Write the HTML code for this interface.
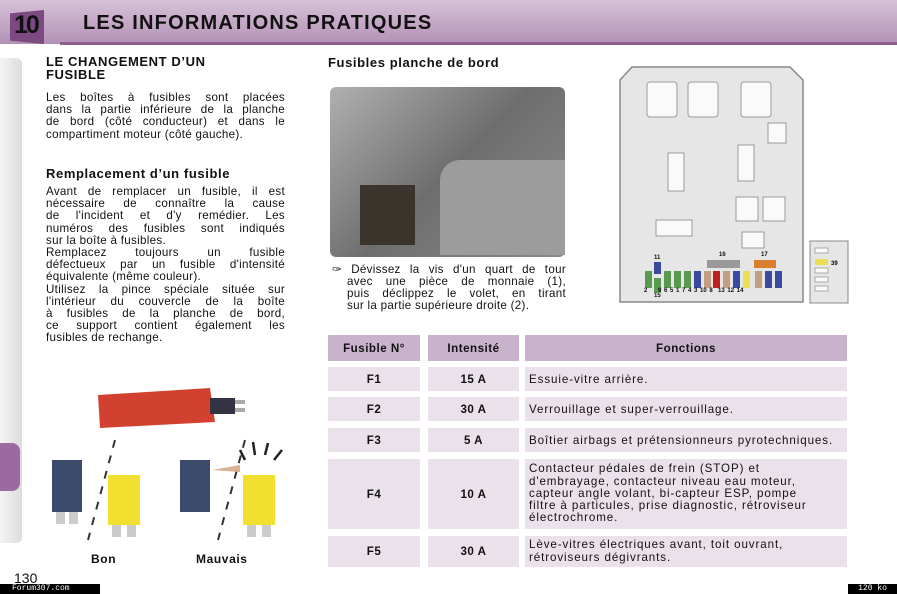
<!DOCTYPE html>
<html><head><meta charset="utf-8"><style>
body{margin:0;width:897px;height:594px;background:#fff;position:relative;overflow:hidden;font-family:"Liberation Sans",sans-serif;color:#111}
.a{position:absolute}
.p{font-size:11.6px;line-height:12.2px;letter-spacing:0.3px}
.p span{display:block;text-align:justify;text-align-last:justify;white-space:nowrap}
.p span.l{text-align-last:left}
.h{font-weight:bold;font-size:13px;letter-spacing:0.6px}
.c{position:absolute;background:#ebe1ea;font-size:11.6px;letter-spacing:0.5px;display:flex;align-items:center}
.t{letter-spacing:0.9px}
.ctr{justify-content:center;font-weight:bold}
.hd{background:#c9b3cc}
.f{position:absolute;width:7px;height:17px;top:271px}
.n{position:absolute;font-size:6px;font-weight:bold}
</style></head><body>
<div class="a" style="left:0;top:0;width:897px;height:44px;background:linear-gradient(#d6c2d8,#b391b6)"></div>
<div class="a" style="left:60px;top:42px;width:837px;height:3px;background:#8d6090"></div>
<div class="a" style="left:10px;top:10px;width:34px;height:34px;background:#7c4a80;clip-path:polygon(0 10%,100% 0,100% 100%,0 90%)"></div>
<div class="a" style="left:14px;top:11px;font-weight:bold;font-size:25px;color:#111;letter-spacing:-2px">10</div>
<div class="a" style="left:83px;top:12px;font-weight:bold;font-size:20px;letter-spacing:1.2px">LES INFORMATIONS PRATIQUES</div>
<div class="a" style="left:0;top:58px;width:22px;height:485px;background:linear-gradient(90deg,#f4f4f4,#dcdcdc);border-radius:0 6px 6px 0"></div>
<div class="a" style="left:0;top:443px;width:20px;height:48px;background:#9b6aa0;border-radius:0 8px 8px 0"></div>
<div class="a h" style="left:46px;top:55px;width:240px;line-height:13px">LE CHANGEMENT D’UN<br>FUSIBLE</div>
<div class="a p" style="left:46px;top:92px;width:239px">
<span>Les boîtes à fusibles sont placées</span>
<span>dans la partie inférieure de la planche</span>
<span>de bord (côté conducteur) et dans le</span>
<span class="l">compartiment moteur (côté gauche).</span></div>
<div class="a h" style="left:46px;top:166px">Remplacement d’un fusible</div>
<div class="a p" style="left:46px;top:186px;width:239px">
<span>Avant de remplacer un fusible, il est</span>
<span>nécessaire de connaître la cause</span>
<span>de l'incident et d'y remédier. Les</span>
<span>numéros des fusibles sont indiqués</span>
<span class="l">sur la boîte à fusibles.</span>
<span>Remplacez toujours un fusible</span>
<span>défectueux par un fusible d'intensité</span>
<span class="l">équivalente (même couleur).</span>
<span>Utilisez la pince spéciale située sur</span>
<span>l'intérieur du couvercle de la boîte</span>
<span>à fusibles de la planche de bord,</span>
<span>ce support contient également les</span>
<span class="l">fusibles de rechange.</span></div>
<svg class="a" style="left:40px;top:380px" width="260" height="170">
<path d="M58 15 L170 8 L175 42 L60 48 Z" fill="#d24030"/><rect x="170" y="18" width="25" height="16" fill="#334"/><rect x="195" y="20" width="10" height="4" fill="#aaa"/><rect x="195" y="28" width="10" height="4" fill="#aaa"/>
<rect x="12" y="80" width="30" height="52" fill="#3a4a6a"/><rect x="68" y="95" width="32" height="50" fill="#f2e030"/>
<rect x="140" y="80" width="30" height="52" fill="#3a4a6a"/><rect x="203" y="95" width="32" height="50" fill="#f2e030"/>
<rect x="16" y="132" width="9" height="12" fill="#ccc"/><rect x="29" y="132" width="9" height="12" fill="#ccc"/><rect x="72" y="145" width="9" height="12" fill="#ccc"/><rect x="87" y="145" width="9" height="12" fill="#ccc"/><rect x="207" y="145" width="9" height="12" fill="#ccc"/><rect x="222" y="145" width="9" height="12" fill="#ccc"/>
<g stroke="#333" stroke-width="2" stroke-dasharray="8 8"><line x1="75" y1="60" x2="48" y2="160"/><line x1="205" y1="60" x2="178" y2="160"/></g>
<path d="M172 90 L200 85 L200 92 Z" fill="#d9b090"/>
<g stroke="#222" stroke-width="2.5"><line x1="205" y1="80" x2="200" y2="70"/><line x1="215" y1="75" x2="213" y2="62"/><line x1="225" y1="75" x2="228" y2="63"/><line x1="234" y1="80" x2="242" y2="70"/></g>
</svg>
<div class="a" style="left:91px;top:552px;font-weight:bold;font-size:12px;letter-spacing:0.6px">Bon</div>
<div class="a" style="left:196px;top:552px;font-weight:bold;font-size:12px;letter-spacing:0.6px">Mauvais</div>
<div class="a" style="left:14px;top:570px;font-size:14px">130</div>
<div class="a" style="left:0;top:584px;width:100px;height:10px;background:#000;color:#fff;font-family:'Liberation Mono',monospace;font-size:8px;line-height:10px;padding-left:12px;box-sizing:border-box">Forum307.com</div>
<div class="a" style="left:848px;top:584px;width:49px;height:10px;background:#000;color:#fff;font-family:'Liberation Mono',monospace;font-size:8px;line-height:10px;text-align:center">120 ko</div>
<div class="a h" style="left:328px;top:55px">Fusibles planche de bord</div>
<div class="a" style="left:330px;top:87px;width:235px;height:170px;background:linear-gradient(135deg,#b0b0b0,#6e6e6e 50%,#8a8a8a);border-radius:6px"></div>
<div class="a" style="left:440px;top:160px;width:125px;height:95px;background:#9c9c9c;border-radius:20px 0 0 0"></div>
<div class="a" style="left:360px;top:185px;width:55px;height:60px;background:#3a342c"></div>
<div class="a p" style="left:332px;top:264px;width:234px"><span>✑ Dévissez la vis d'un quart de tour</span></div>
<div class="a p" style="left:347px;top:276px;width:219px">
<span>avec une pièce de monnaie (1),</span>
<span>puis déclippez le volet, en tirant</span>
<span class="l">sur la partie supérieure droite (2).</span></div>
<svg class="a" style="left:600px;top:60px" width="297" height="250">
<path d="M32 7 L190 7 L203 20 L203 242 L20 242 L20 20 Z" fill="#e6e6e6" stroke="#888" stroke-width="1.5"/>
<g fill="#fafafa" stroke="#999">
<rect x="47" y="22" width="30" height="35" rx="3"/><rect x="88" y="22" width="30" height="35" rx="3"/><rect x="141" y="22" width="30" height="35" rx="3"/>
<rect x="168" y="63" width="18" height="20"/><rect x="68" y="93" width="16" height="38"/><rect x="138" y="85" width="16" height="36"/>
<rect x="136" y="137" width="22" height="24"/><rect x="163" y="137" width="22" height="24"/><rect x="56" y="160" width="36" height="16"/><rect x="142" y="172" width="22" height="16"/>
</g>
<rect x="210" y="181" width="38" height="62" fill="#e6e6e6" stroke="#888"/>
<g fill="#fafafa" stroke="#aaa"><rect x="215" y="188" width="13" height="5"/><rect x="215" y="208" width="13" height="5"/><rect x="215" y="217" width="13" height="5"/><rect x="215" y="226" width="13" height="5"/></g>
<rect x="215" y="199" width="13" height="6" fill="#e8e050"/>
<text x="231" y="205" font-size="6" font-weight="bold" font-family="Liberation Sans">39</text>
<rect x="107" y="200" width="33" height="8" fill="#999"/><rect x="154" y="200" width="22" height="8" fill="#d98030"/>
</svg>
<div class="n" style="left:654px;top:255px">11</div><div class="n" style="left:719px;top:252px">16</div><div class="n" style="left:761px;top:252px">17</div><div class="n" style="left:654px;top:293px">15</div>
<div class="f" style="left:645px;background:#5a9a50"></div><div class="f" style="left:654px;top:262px;height:12px;background:#3a4aa0"></div><div class="f" style="left:654px;top:278px;height:15px;background:#5a9a50"></div>
<div class="f" style="left:664px;background:#5a9a50"></div><div class="f" style="left:674px;background:#5a9a50"></div><div class="f" style="left:684px;background:#5a9a50"></div><div class="f" style="left:694px;background:#3a4aa0"></div><div class="f" style="left:704px;background:#c0a080"></div><div class="f" style="left:713px;background:#c02020"></div><div class="f" style="left:723px;background:#c0a080"></div><div class="f" style="left:733px;background:#3a4aa0"></div><div class="f" style="left:743px;background:#e8e050"></div><div class="f" style="left:755px;background:#c0a080"></div><div class="f" style="left:765px;background:#3a4aa0"></div><div class="f" style="left:775px;background:#3a4aa0"></div>
<div class="a" style="left:644px;top:288px;font-size:6px;font-weight:bold;word-spacing:1px">2 &nbsp;&nbsp; 9 6 5 1 7 4 3 10 8 &nbsp;13 12 14</div>
<div class="c hd ctr" style="left:328px;top:335px;width:92px;height:26px">Fusible N°</div>
<div class="c hd ctr" style="left:428px;top:335px;width:91px;height:26px">Intensité</div>
<div class="c hd ctr" style="left:525px;top:335px;width:322px;height:26px">Fonctions</div>
<div class="c ctr" style="left:328px;top:367px;width:92px;height:24px">F1</div><div class="c ctr" style="left:428px;top:367px;width:91px;height:24px">15 A</div><div class="c t" style="left:525px;top:367px;width:318px;height:24px;padding-left:4px">Essuie-vitre arrière.</div>
<div class="c ctr" style="left:328px;top:397px;width:92px;height:24px">F2</div><div class="c ctr" style="left:428px;top:397px;width:91px;height:24px">30 A</div><div class="c t" style="left:525px;top:397px;width:318px;height:24px;padding-left:4px">Verrouillage et super-verrouillage.</div>
<div class="c ctr" style="left:328px;top:428px;width:92px;height:24px">F3</div><div class="c ctr" style="left:428px;top:428px;width:91px;height:24px">5 A</div><div class="c t" style="left:525px;top:428px;width:318px;height:24px;padding-left:4px">Boîtier airbags et prétensionneurs pyrotechniques.</div>
<div class="c ctr" style="left:328px;top:459px;width:92px;height:70px">F4</div><div class="c ctr" style="left:428px;top:459px;width:91px;height:70px">10 A</div><div class="c t" style="left:525px;top:459px;width:318px;height:70px;padding-left:4px;line-height:12.3px;white-space:nowrap">Contacteur pédales de frein (STOP) et<br>d'embrayage, contacteur niveau eau moteur,<br>capteur angle volant, bi-capteur ESP, pompe<br>filtre à particules, prise diagnostic, rétroviseur<br>électrochrome.</div>
<div class="c ctr" style="left:328px;top:536px;width:92px;height:31px">F5</div><div class="c ctr" style="left:428px;top:536px;width:91px;height:31px">30 A</div><div class="c t" style="left:525px;top:536px;width:318px;height:31px;padding-left:4px;line-height:12.3px">Lève-vitres électriques avant, toit ouvrant,<br>rétroviseurs dégivrants.</div>
</body></html>
